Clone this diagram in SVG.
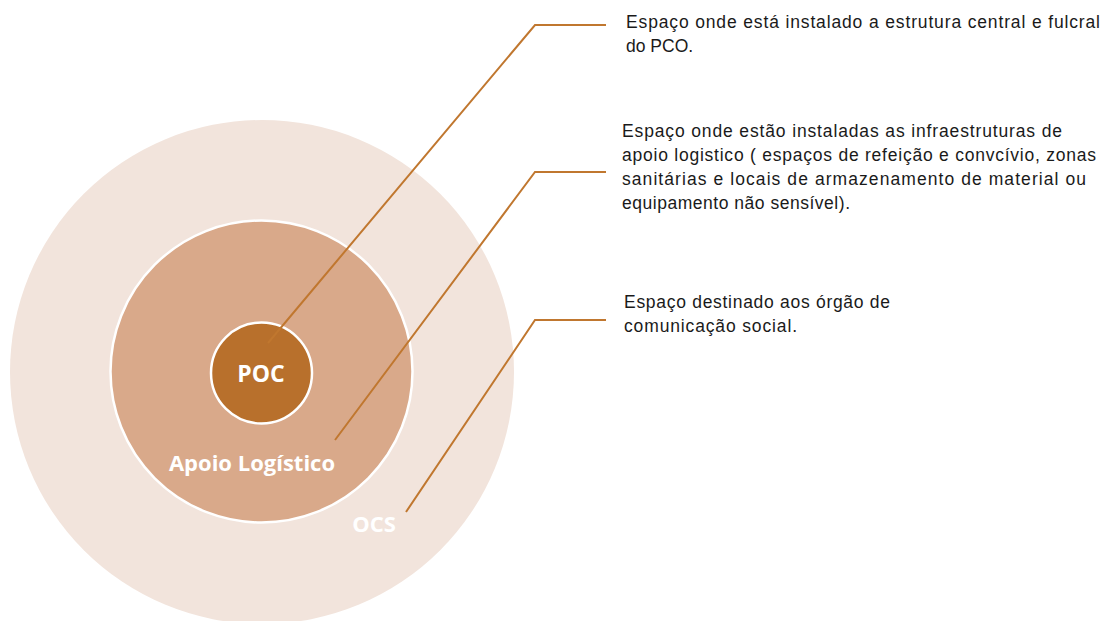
<svg xmlns="http://www.w3.org/2000/svg" width="1114" height="621" viewBox="0 0 1114 621">
<style>
.desc{font-family:"Liberation Sans",Arial,sans-serif;font-size:17.5px;fill:#1a1a1a}
.lbl{font-family:"Open Sans","Liberation Sans",sans-serif;font-weight:bold;fill:#ffffff}
.conn{fill:none;stroke:#c0772f;stroke-width:2}
</style>
<rect width="1114" height="621" fill="#ffffff"/>
<g id="ocs">
<circle cx="262" cy="372" r="252" fill="#f2e4dc"/>
<text class="lbl" x="374" y="532" font-size="22" text-anchor="middle">OCS</text>
</g>
<g id="apoio">
<circle cx="261.5" cy="371.5" r="151" fill="#d9a98a" stroke="#ffffff" stroke-width="2.5"/>
<text class="lbl" x="252" y="471" font-size="22" text-anchor="middle">Apoio Logístico</text>
</g>
<g id="poc">
<circle cx="261.5" cy="373" r="50.5" fill="#b8702c" stroke="#ffffff" stroke-width="2.5"/>
<text class="lbl" x="261" y="382" font-size="23" text-anchor="middle">POC</text>
</g>
<g id="connectors">
<polyline class="conn" points="268,343 535,25 606,25"/>
<polyline class="conn" points="335,440 535,172 606,172"/>
<polyline class="conn" points="406,512 535,320 606,320"/>
</g>
<g id="desc1">
<text class="desc" x="626" y="28" textLength="474">Espaço onde está instalado a estrutura central e fulcral</text>
<text class="desc" x="626" y="52">do PCO.</text>
</g>
<g id="desc2">
<text class="desc" x="622" y="137" textLength="440">Espaço onde estão instaladas as infraestruturas de</text>
<text class="desc" x="622" y="161" textLength="474">apoio logistico ( espaços de refeição e convcívio, zonas</text>
<text class="desc" x="622" y="185" textLength="464">sanitárias e locais de armazenamento de material ou</text>
<text class="desc" x="622" y="209" textLength="228">equipamento não sensível).</text>
</g>
<g id="desc3">
<text class="desc" x="624" y="308" textLength="266">Espaço destinado aos órgão de</text>
<text class="desc" x="624" y="332" textLength="173">comunicação social.</text>
</g>
</svg>
